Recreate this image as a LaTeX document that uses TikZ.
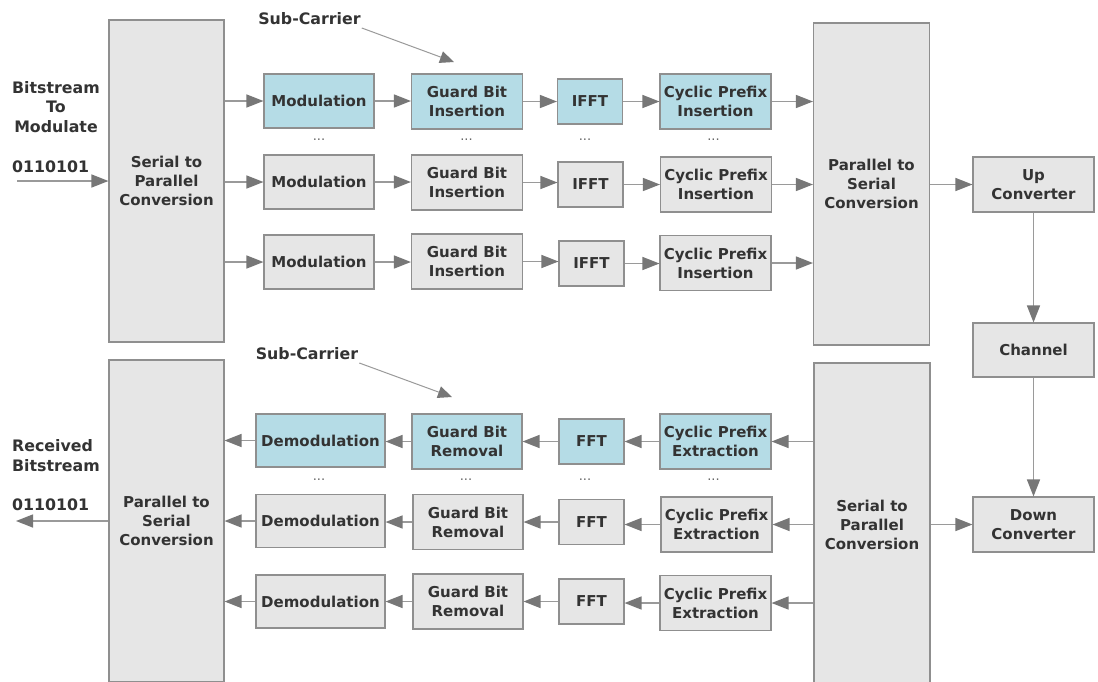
\documentclass[tikz,border=0pt]{standalone}
\usepackage{fontspec}
\setmainfont{DejaVu Sans}
\usetikzlibrary{arrows.meta}
\definecolor{boxgray}{HTML}{E6E6E6}
\definecolor{boxblue}{HTML}{B5DCE6}
\definecolor{bordergray}{HTML}{8F8F8F}
\definecolor{arrgray}{HTML}{9A9A9A}
\definecolor{headgray}{HTML}{777777}
\definecolor{dotgray}{HTML}{666666}
\definecolor{txt}{HTML}{333333}
\begin{document}
\begin{tikzpicture}[x=1pt,y=-1pt,
  box/.style={draw=bordergray, fill=boxgray, line width=1.1pt, align=center, inner sep=0pt,
    text=txt, font=\fontsize{15}{19}\selectfont\bfseries},
  bluebox/.style={box, fill=boxblue},
  lbl/.style={inner sep=0pt, text=txt, font=\fontsize{15.8}{19.5}\selectfont\bfseries},
  dots/.style={inner sep=0pt, text=dotgray, font=\fontsize{13}{13}\selectfont},
  flow/.style={draw=arrgray, line width=1.4pt, -{Triangle[length=17pt,width=13pt,color=headgray]}},
  thin/.style={draw=arrgray, line width=1pt, -{Triangle[length=14pt,width=12pt,color=headgray]}}]
\useasboundingbox (0,0) rectangle (1098,681);
\fill[white] (0,0) rectangle (1098,681);

% ---------- transmitter ----------
\node[box, minimum width=115, minimum height=322] (s2p) at (166.5,181) {Serial to\\Parallel\\Conversion};
\node[bluebox, minimum width=110, minimum height=54] (m1) at (319,101) {Modulation};
\node[box, minimum width=110, minimum height=54] (m2) at (319,182) {Modulation};
\node[box, minimum width=110, minimum height=54] (m3) at (319,262) {Modulation};
\node[bluebox, minimum width=111, minimum height=55] (g1) at (467,101.5) {Guard Bit\\Insertion};
\node[box, minimum width=111, minimum height=55] (g2) at (467,182.5) {Guard Bit\\Insertion};
\node[box, minimum width=111, minimum height=55] (g3) at (467,261.5) {Guard Bit\\Insertion};
\node[bluebox, minimum width=65, minimum height=45] (i1) at (590,101.5) {IFFT};
\node[box, minimum width=65, minimum height=45] (i2) at (590.5,184.5) {IFFT};
\node[box, minimum width=65, minimum height=45] (i3) at (591.5,263.5) {IFFT};
\node[bluebox, minimum width=111, minimum height=55] (c1) at (715.5,101.5) {Cyclic Prefix\\Insertion};
\node[box, minimum width=111, minimum height=55] (c2) at (716,184.5) {Cyclic Prefix\\Insertion};
\node[box, minimum width=111, minimum height=55] (c3) at (715.5,263) {Cyclic Prefix\\Insertion};
\node[box, minimum width=116, minimum height=322] (p2s) at (871.5,184) {Parallel to\\Serial\\Conversion};
\node[box, minimum width=121, minimum height=55] (up) at (1033.5,184.5) {Up\\Converter};
\node[box, minimum width=121, minimum height=54] (ch) at (1033.5,350) {Channel};
\node[box, minimum width=121, minimum height=55] (down) at (1033.5,524.5) {Down\\Converter};

\node[lbl, align=center] (bsin) at (56,107) {Bitstream\\To\\Modulate};
\node[lbl, anchor=west] (bin) at (12,167) {0110101};
\coordinate (inStart) at (17,181);
\draw[flow] (inStart) -- (inStart -| s2p.west);

\foreach \m/\g/\i/\c in {m1/g1/i1/c1, m2/g2/i2/c2, m3/g3/i3/c3}{
  \draw[flow] (s2p.east |- \m.west) -- (\m.west);
  \draw[flow] (\m.east) -- (\m.east -| \g.west);
  \draw[flow] (\g.east) -- (\g.east -| \i.west);
  \draw[flow] (\i.east) -- (\i.east -| \c.west);
  \draw[flow] (\c.east) -- (\c.east -| p2s.west);
}
\draw[flow] (p2s.east |- up.west) -- (up.west);
\draw[flow] (up.south) -- (up.south |- ch.north);
\draw[flow] (ch.south) -- (ch.south |- down.north);

\node[lbl] (sc1) at (309.5,19) {Sub-Carrier};
\coordinate (sc1end) at (454,62);
\draw[thin] (sc1.east) ++(1,9) coordinate (sc1start) -- (sc1end);

\node[dots] (d1) at (319,140) {...};
\node[dots] (d2) at (466.5,140) {...};
\node[dots] (d3) at (585,140) {...};
\node[dots] (d4) at (713.5,140) {...};

% ---------- receiver ----------
\node[box, minimum width=115, minimum height=322] (p2sb) at (166.5,521) {Parallel to\\Serial\\Conversion};
\node[bluebox, minimum width=129, minimum height=53] (dm1) at (320.5,440.5) {Demodulation};
\node[box, minimum width=129, minimum height=53] (dm2) at (320.5,521) {Demodulation};
\node[box, minimum width=129, minimum height=53] (dm3) at (320.5,601.5) {Demodulation};
\node[bluebox, minimum width=110, minimum height=55] (gr1) at (467,441.5) {Guard Bit\\Removal};
\node[box, minimum width=110, minimum height=55] (gr2) at (468,522) {Guard Bit\\Removal};
\node[box, minimum width=110, minimum height=55] (gr3) at (468,601.5) {Guard Bit\\Removal};
\node[bluebox, minimum width=65, minimum height=45] (f1) at (591.5,441.5) {FFT};
\node[box, minimum width=65, minimum height=45] (f2) at (591.5,522) {FFT};
\node[box, minimum width=65, minimum height=45] (f3) at (591.5,601.5) {FFT};
\node[bluebox, minimum width=111, minimum height=55] (ce1) at (715.5,441.5) {Cyclic Prefix\\Extraction};
\node[box, minimum width=111, minimum height=55] (ce2) at (716.5,524.5) {Cyclic Prefix\\Extraction};
\node[box, minimum width=111, minimum height=55] (ce3) at (715.5,603) {Cyclic Prefix\\Extraction};
\node[box, minimum width=116, minimum height=323] (s2pb) at (872,524.5) {Serial to\\Parallel\\Conversion};

\foreach \dm/\gr/\f/\ce in {dm1/gr1/f1/ce1, dm2/gr2/f2/ce2, dm3/gr3/f3/ce3}{
  \draw[flow] (s2pb.west |- \ce.east) -- (\ce.east);
  \draw[flow] (\ce.west) -- (\ce.west -| \f.east);
  \draw[flow] (\f.west) -- (\f.west -| \gr.east);
  \draw[flow] (\gr.west) -- (\gr.west -| \dm.east);
  \draw[flow] (\dm.west) -- (\dm.west -| p2sb.east);
}
\draw[flow] (s2pb.east |- down.west) -- (down.west);

\node[lbl, align=left, anchor=west] (rb) at (12,455.5) {Received\\Bitstream};
\node[lbl, anchor=west] (bout) at (12,505) {0110101};
\coordinate (outEnd) at (16,521);
\draw[flow] (p2sb.west |- outEnd) -- (outEnd);

\node[lbl] (sc2) at (307,354) {Sub-Carrier};
\coordinate (sc2end) at (452,397);
\draw[thin] (sc2.east) ++(1,9) coordinate (sc2start) -- (sc2end);

\node[dots] (e1) at (319,480) {...};
\node[dots] (e2) at (466,480) {...};
\node[dots] (e3) at (585,480) {...};
\node[dots] (e4) at (713.5,480) {...};
\end{tikzpicture}
\end{document}
